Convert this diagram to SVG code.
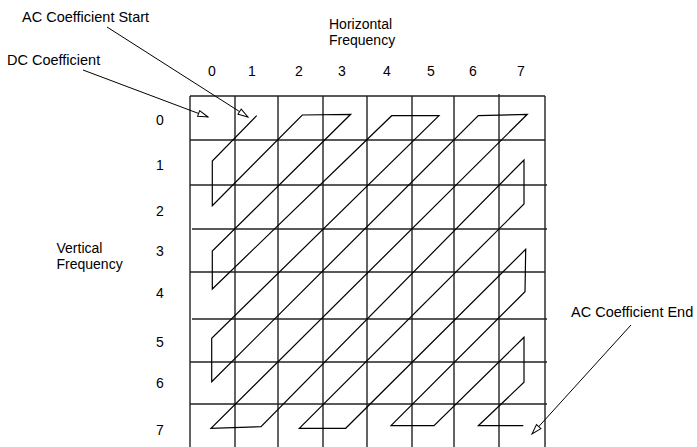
<svg xmlns="http://www.w3.org/2000/svg" width="697" height="447" viewBox="0 0 697 447">
<style>
text{font-family:"Liberation Sans",Arial,sans-serif;font-size:14.5px;fill:#000}
.num{font-size:14px}
.two{font-size:14px}
.grid line{stroke:#222;stroke-width:1.4}
.zig{fill:none;stroke:#000;stroke-width:1.2;stroke-linejoin:miter}
.arrow{stroke:#000;stroke-width:1;fill:none;marker-end:url(#open)}
</style>
<defs>
<marker id="open" viewBox="0 0 12 8" refX="11" refY="4" markerWidth="12" markerHeight="8" markerUnits="userSpaceOnUse" orient="auto">
<path d="M1,1 L11,4 L1,7 Z" fill="#fff" stroke="#000" stroke-width="1"/>
</marker>
</defs>
<rect width="697" height="447" fill="#fff"/>
<g id="grid" class="grid">
<line x1="190" y1="96" x2="190" y2="447"/>
<line x1="235" y1="96" x2="235" y2="447"/>
<line x1="278" y1="96" x2="278" y2="447"/>
<line x1="323" y1="96" x2="323" y2="447"/>
<line x1="367" y1="96" x2="367" y2="447"/>
<line x1="412" y1="96" x2="412" y2="447"/>
<line x1="454" y1="96" x2="454" y2="447"/>
<line x1="499" y1="94" x2="499" y2="447"/>
<line x1="545" y1="96" x2="545" y2="447"/>
<line x1="190" y1="96" x2="545" y2="96"/>
<line x1="190" y1="140" x2="545" y2="140"/>
<line x1="190" y1="185" x2="547" y2="185"/>
<line x1="192" y1="229" x2="547" y2="229"/>
<line x1="190" y1="272" x2="545" y2="272"/>
<line x1="192" y1="319" x2="547" y2="319"/>
<line x1="190" y1="362" x2="547" y2="362"/>
<line x1="190" y1="404" x2="547" y2="404"/>
</g>
<g id="zigzag">
<path class="zig" d="M256.7,115.7 L212.3,161 L212.3,205.7 L302.3,115 L350.7,114.3 L212.3,251 L212.3,289 L391.7,115.7 L439,115.7 L211.7,338.3 L211.7,381.7 L478.3,115.7 L527.3,114.3 L211,428.3 L261,426.7 L524,160 L524,204 L299.3,428.3 L345.7,428.3 L525.7,249.3 L525,291.7 L391,425.7 L434,425.7 L524,337.3 L524,382.3 L478.3,425.7 L523.3,425.7"/>
</g>
<g id="col-labels" text-anchor="middle">
<text class="num" x="212" y="76">0</text>
<text class="num" x="252" y="76">1</text>
<text class="num" x="299" y="76">2</text>
<text class="num" x="342" y="76">3</text>
<text class="num" x="387" y="76">4</text>
<text class="num" x="431" y="76">5</text>
<text class="num" x="473" y="76">6</text>
<text class="num" x="521" y="76">7</text>
</g>
<g id="row-labels" text-anchor="middle">
<text class="num" x="160" y="125">0</text>
<text class="num" x="160" y="170">1</text>
<text class="num" x="160" y="216">2</text>
<text class="num" x="160" y="256">3</text>
<text class="num" x="160" y="298">4</text>
<text class="num" x="160" y="347">5</text>
<text class="num" x="160" y="388">6</text>
<text class="num" x="160" y="435">7</text>
</g>
<g id="horizontal-frequency">
<text class="two" x="329" y="28.7">Horizontal</text>
<text class="two" x="329" y="44.5">Frequency</text>
</g>
<g id="vertical-frequency">
<text class="two" x="56.5" y="253.3">Vertical</text>
<text class="two" x="56.5" y="269">Frequency</text>
</g>
<g id="dc-coefficient">
<text x="7" y="64.5">DC Coefficient</text>
</g>
<g id="ac-start">
<text x="22" y="21.5">AC Coefficient Start</text>
</g>
<g id="ac-end">
<text x="571" y="316.5">AC Coefficient End</text>
</g>
<g id="connectors">
<line class="arrow" x1="83" y1="70" x2="208" y2="117"/>
<line class="arrow" x1="107" y1="27" x2="248" y2="117"/>
<line class="arrow" x1="631" y1="325" x2="532" y2="434"/>
</g>
</svg>
